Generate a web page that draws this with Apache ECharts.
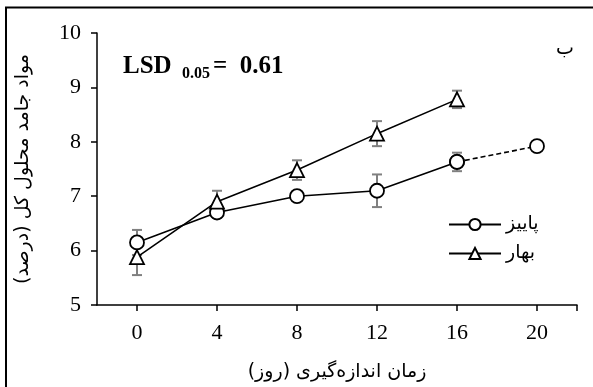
<!DOCTYPE html>
<html>
<head>
<meta charset="utf-8">
<script src="https://cdn.jsdelivr.net/npm/echarts@6/dist/echarts.min.js"></script>
<style>html,body{margin:0;padding:0;background:#fff;}#c{width:593px;height:387px;}</style>
</head>
<body>
<div id="c"></div>
<script>
var days = [0, 4, 8, 12, 16, 20];
var autumnName = 'پاییز';
var springName = 'بهار';
var autumn = [6.15, 6.70, 7.00, 7.10, 7.63, 7.92];
var autumnErr = [0.23, 0.10, 0.05, 0.30, 0.17, 0];
var spring = [5.88, 6.90, 7.48, 8.15, 8.78];
var springErr = [0.33, 0.20, 0.18, 0.23, 0.16];
var xTicks = [0, 4, 8, 12, 16, 20];
var yTicks = [5, 6, 7, 8, 9, 10];
var xTitle = 'زمان اندازه‌گیری (روز)';
var yTitle = 'مواد جامد محلول کل (درصد)';
var panelLabel = 'ب';

var serif = '"Liberation Serif", "Times New Roman", serif';
var arab = '"DejaVu Sans", sans-serif';

var autumnSolid = [], autumnDash = [];
for (var i = 0; i < days.length; i++) {
  if (days[i] <= 16) autumnSolid.push([days[i], autumn[i]]);
  if (days[i] >= 16) autumnDash.push([days[i], autumn[i]]);
}
var springData = spring.map(function (v, i) { return [days[i], v]; });

var errData = [];
autumn.forEach(function (v, i) { if (autumnErr[i] > 0) errData.push([days[i], v - autumnErr[i], v + autumnErr[i]]); });
spring.forEach(function (v, i) { errData.push([days[i], v - springErr[i], v + springErr[i]]); });

var chart = echarts.init(document.getElementById('c'), null, {renderer: 'canvas'});
chart.setOption({
  animation: false,
  backgroundColor: '#fff',
  grid: {left: 97, top: 33, right: 16, bottom: 75, containLabel: false},
  xAxis: {
    type: 'value', min: -2, max: 22,
    name: xTitle, nameLocation: 'middle', nameGap: 58,
    nameTextStyle: {fontFamily: arab, fontSize: 19, color: '#000'},
    axisLine: {show: true, onZero: false, lineStyle: {color: '#000', width: 1.5}},
    axisTick: {show: true, inside: false, length: 6, customValues: xTicks.concat([22]), lineStyle: {color: '#000', width: 1.5}},
    axisLabel: {customValues: xTicks, margin: 17, fontFamily: serif, fontSize: 22, color: '#000'},
    splitLine: {show: false}
  },
  yAxis: {
    type: 'value', min: 5, max: 10, interval: 1,
    name: yTitle, nameLocation: 'middle', nameGap: 64, nameRotate: 90,
    nameTextStyle: {fontFamily: arab, fontSize: 19, color: '#000'},
    axisLine: {show: true, onZero: false, lineStyle: {color: '#000', width: 1.5}},
    axisTick: {show: true, inside: false, length: 6, lineStyle: {color: '#000', width: 1.5}},
    axisLabel: {customValues: yTicks, margin: 16, fontFamily: serif, fontSize: 22, color: '#000'},
    splitLine: {show: false}
  },
  legend: {
    data: [autumnName, springName],
    orient: 'vertical', left: 443, top: 210,
    itemWidth: 52, itemHeight: 14, itemGap: 10,
    textStyle: {fontFamily: arab, fontSize: 19, color: '#000'},
    selectedMode: false
  },
  series: [
    {
      type: 'custom', name: 'err', z: 1, silent: true,
      renderItem: function (params, api) {
        var x = api.value(0);
        var lo = api.coord([x, api.value(1)]);
        var hi = api.coord([x, api.value(2)]);
        var cw = 5;
        var st = {stroke: '#808080', lineWidth: 2};
        return {type: 'group', children: [
          {type: 'line', shape: {x1: lo[0], y1: lo[1], x2: hi[0], y2: hi[1]}, style: st},
          {type: 'line', shape: {x1: lo[0] - cw, y1: lo[1], x2: lo[0] + cw, y2: lo[1]}, style: st},
          {type: 'line', shape: {x1: hi[0] - cw, y1: hi[1], x2: hi[0] + cw, y2: hi[1]}, style: st}
        ]};
      },
      data: errData
    },
    {
      type: 'line', name: autumnName + ' ', data: autumnDash, z: 2,
      symbol: 'circle', symbolSize: 14,
      lineStyle: {color: '#000', width: 1.6, type: [5, 3]},
      itemStyle: {color: '#fff', borderColor: '#000', borderWidth: 1.8}
    },
    {
      type: 'line', name: autumnName, data: autumnSolid, z: 3,
      symbol: 'circle', symbolSize: 14,
      lineStyle: {color: '#000', width: 1.6},
      itemStyle: {color: '#fff', borderColor: '#000', borderWidth: 1.8}
    },
    {
      type: 'line', name: springName, data: springData, z: 3,
      symbol: 'triangle', symbolSize: [14, 14],
      lineStyle: {color: '#000', width: 1.6},
      itemStyle: {color: '#fff', borderColor: '#000', borderWidth: 1.8}
    }
  ],
  graphic: [
    {type: 'line', shape: {x1: 5, y1: 7.5, x2: 593, y2: 7.5}, style: {stroke: '#000', lineWidth: 2}},
    {type: 'line', shape: {x1: 6, y1: 7, x2: 6, y2: 387}, style: {stroke: '#000', lineWidth: 2}},
    {type: 'text', left: 123, top: 54, style: {text: 'LSD', font: 'bold 25px ' + serif, fill: '#000'}},
    {type: 'text', left: 182, top: 66, style: {text: '0.05', font: 'bold 16px ' + serif, fill: '#000'}},
    {type: 'text', left: 213, top: 54, style: {text: '=  0.61', font: 'bold 25px ' + serif, fill: '#000'}},
    {type: 'text', left: 556, top: 40, style: {text: panelLabel, font: '19px ' + arab, fill: '#000'}}
  ]
});
</script>
</body>
</html>
